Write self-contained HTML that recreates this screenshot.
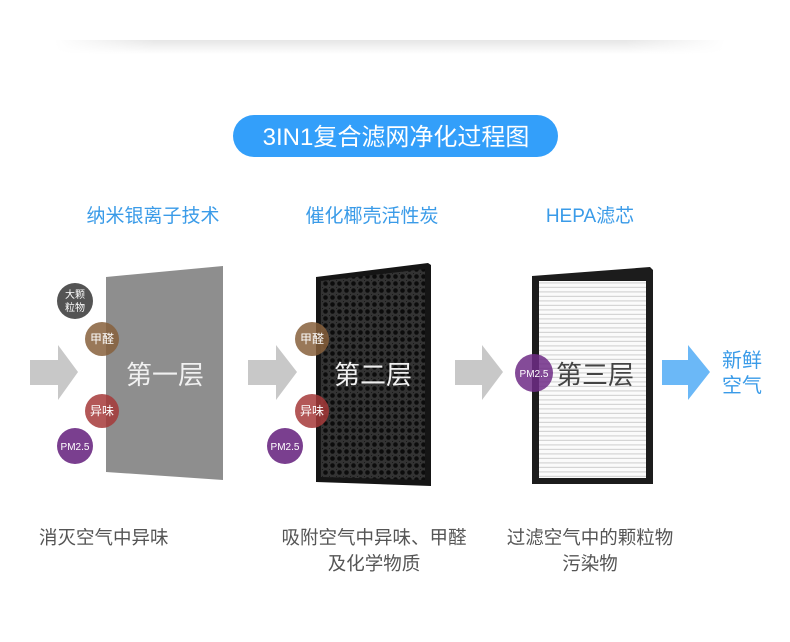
<!DOCTYPE html>
<html><head><meta charset="utf-8"><style>
html,body{margin:0;padding:0;background:#fff;width:790px;height:642px;overflow:hidden}
svg{display:block}
text{font-family:"Liberation Sans","Noto Sans CJK SC",sans-serif}
</style></head><body>
<svg width="790" height="642" viewBox="0 0 790 642" xmlns="http://www.w3.org/2000/svg">
<defs>
<linearGradient id="sh" x1="0" y1="0" x2="0" y2="1"><stop offset="0" stop-color="#e6e6e6"/><stop offset="1" stop-color="#fff"/></linearGradient>
<linearGradient id="shx" x1="0" y1="0" x2="1" y2="0"><stop offset="0" stop-color="#fff" stop-opacity="1"/><stop offset="0.15" stop-color="#fff" stop-opacity="0"/><stop offset="0.85" stop-color="#fff" stop-opacity="0"/><stop offset="1" stop-color="#fff" stop-opacity="1"/></linearGradient>
<pattern id="holes" width="7" height="7" patternUnits="userSpaceOnUse"><rect width="7" height="7" fill="#333"/><circle cx="3.5" cy="3.5" r="2.3" fill="#0c0c0c"/><circle cx="0" cy="0" r="1" fill="#111"/></pattern>
<pattern id="pleat" width="6" height="4.5" patternUnits="userSpaceOnUse"><rect width="6" height="4.5" fill="#fbfbfb"/><rect y="3.3" width="6" height="1.2" fill="#d5d5d5"/></pattern>
</defs>
<rect x="55" y="40" width="670" height="14" fill="url(#sh)"/>
<rect x="55" y="40" width="670" height="14" fill="url(#shx)"/>

<rect x="233" y="115" width="325" height="42" rx="21" fill="#339ffa"/>
<text x="396" y="145" text-anchor="middle" font-size="24" fill="#fff">3IN1复合滤网净化过程图</text>

<text x="153" y="222" text-anchor="middle" font-size="19" fill="#3a9be8">纳米银离子技术</text>
<text x="372" y="222" text-anchor="middle" font-size="19" fill="#3a9be8">催化椰壳活性炭</text>
<text x="590" y="222" text-anchor="middle" font-size="19" fill="#3a9be8">HEPA滤芯</text>

<polygon points="30,360 58,360 58,345 78,372 58,400 58,385 30,385" fill="#c8c8c8"/>
<polygon points="248,360 276,360 276,345 297,372 276,400 276,385 248,385" fill="#c8c8c8"/>
<polygon points="455,360 482,360 482,345 503,372 482,400 482,385 455,385" fill="#c8c8c8"/>
<polygon points="662,360 688,360 688,345 710,372 688,400 688,385 662,385" fill="#6bb8f7"/>

<polygon points="106,277 223,266 223,480 106,472" fill="#8e8e8e"/>
<polygon points="316,277 428,263 431,265 431,486 316,482" fill="#151515"/>
<polygon points="321,281 425,269 425,480 321,477" fill="url(#holes)"/>
<polygon points="532,276 650,267 653,270 653,484 532,484" fill="#1c1c1c"/>
<rect x="539" y="281" width="107" height="197" fill="url(#pleat)"/>

<circle cx="75" cy="301" r="18" fill="#545454"/>
<text x="75" y="298" text-anchor="middle" font-size="10" fill="#fff">大颗</text>
<text x="75" y="311" text-anchor="middle" font-size="10" fill="#fff">粒物</text>
<g opacity="0.85">
<circle cx="102" cy="339" r="17" fill="#87603c"/>
<circle cx="102" cy="411" r="17" fill="#a63a3a"/>
<circle cx="312" cy="339" r="17" fill="#87603c"/>
<circle cx="312" cy="411" r="17" fill="#a63a3a"/>
<circle cx="534" cy="373" r="19" fill="#6f2c86"/>
</g>
<circle cx="75" cy="446" r="18" fill="#7a3f8f"/>
<circle cx="285" cy="446" r="18" fill="#7a3f8f"/>
<g font-size="12" fill="#fff" text-anchor="middle">
<text x="102" y="343">甲醛</text><text x="102" y="415">异味</text>
<text x="312" y="343">甲醛</text><text x="312" y="415">异味</text>
</g>
<g font-size="10" fill="#fff" text-anchor="middle">
<text x="75" y="450">PM2.5</text><text x="285" y="450">PM2.5</text><text x="534" y="377">PM2.5</text>
</g>

<text x="165" y="384" text-anchor="middle" font-size="26" fill="#f0f0f0">第一层</text>
<text x="373" y="384" text-anchor="middle" font-size="26" fill="#f0f0f0">第二层</text>
<text x="595" y="384" text-anchor="middle" font-size="26" fill="#444">第三层</text>

<text x="722" y="367" font-size="20" fill="#3a9be8">新鲜</text>
<text x="722" y="392" font-size="20" fill="#3a9be8">空气</text>

<g font-size="18.5" fill="#555">
<text x="39" y="544">消灭空气中异味</text>
<text x="374" y="544" text-anchor="middle">吸附空气中异味、甲醛</text>
<text x="374" y="570" text-anchor="middle">及化学物质</text>
<text x="590" y="544" text-anchor="middle">过滤空气中的颗粒物</text>
<text x="590" y="570" text-anchor="middle">污染物</text>
</g>
</svg>
</body></html>
